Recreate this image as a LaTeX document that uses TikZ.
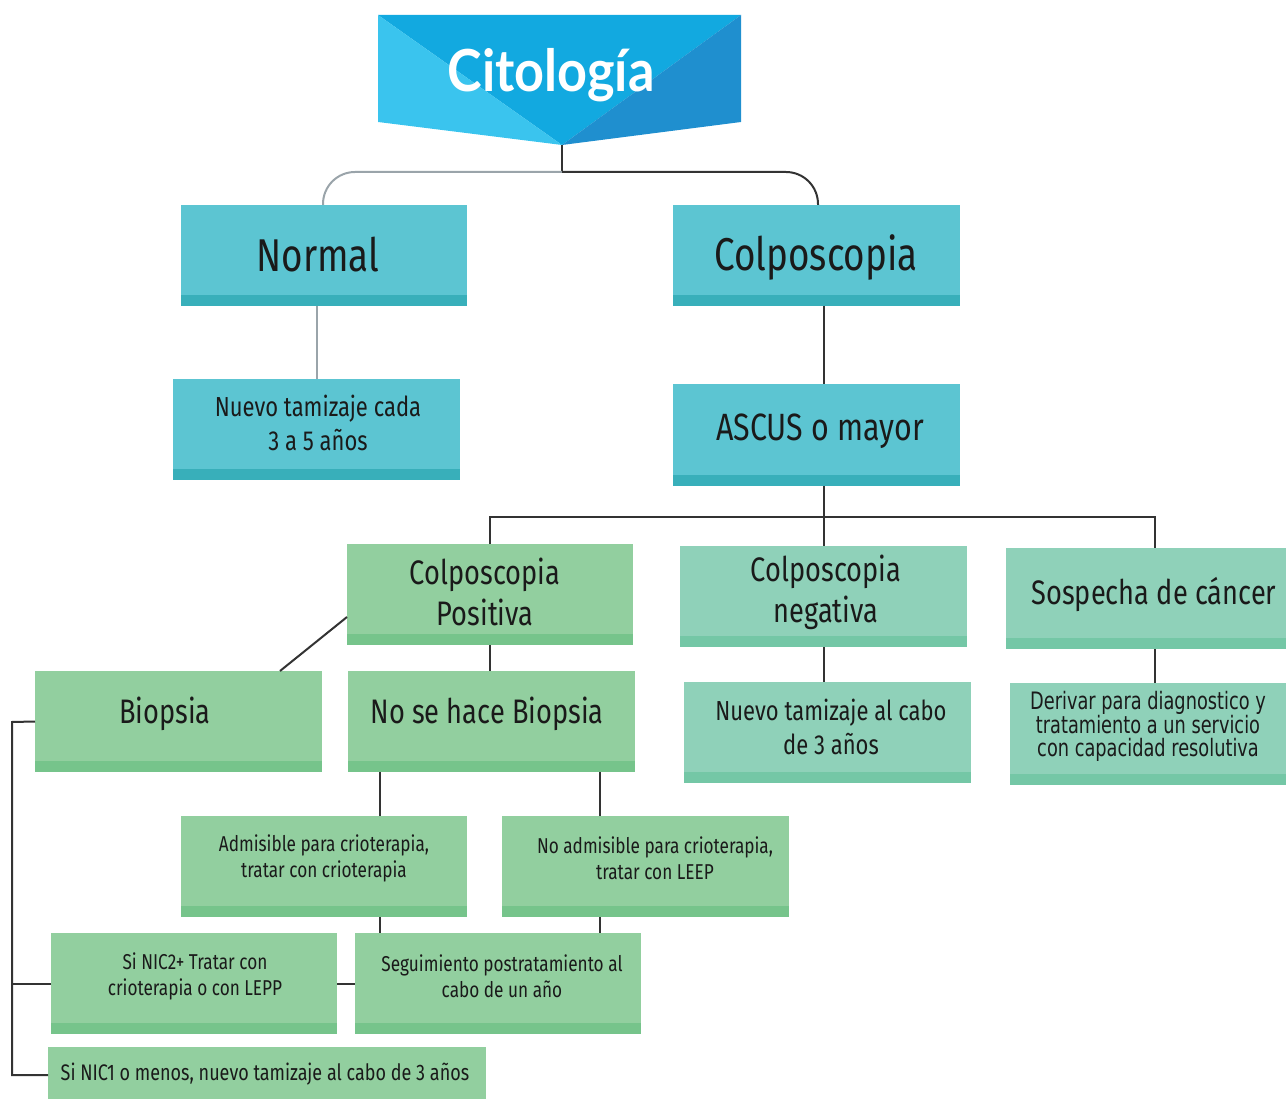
\documentclass[tikz,border=0pt]{standalone}
\usepackage{fontspec}
\setmainfont{Fira Sans}[FakeStretch=0.8]
\newfontfamily\titlefont{Lato}[FakeStretch=0.9]
\newfontfamily\derfont{DejaVu Sans}[FakeStretch=0.74]
\usetikzlibrary{fit,calc}
\definecolor{tLight}{HTML}{3AC4EE}
\definecolor{tMid}{HTML}{12A9E0}
\definecolor{tDark}{HTML}{1F8FCF}
\definecolor{cTeal}{HTML}{5CC5D2}
\definecolor{cTealS}{HTML}{38AFBA}
\definecolor{cGreen}{HTML}{92CF9F}
\definecolor{cGreenS}{HTML}{76C48B}
\definecolor{cMint}{HTML}{8FD1B9}
\definecolor{cMintS}{HTML}{74C7A6}
\definecolor{cLine}{HTML}{333333}
\definecolor{cGray}{HTML}{9AA4AA}
\definecolor{cText}{HTML}{1A1A1A}
\tikzset{
  box/.style={inner sep=0pt, outer sep=0pt, draw=none},
  tealbox/.style={box, fill=cTeal, path picture={\fill[cTealS] (path picture bounding box.south west) rectangle ([yshift=11pt]path picture bounding box.south east);}},
  greenbox/.style={box, fill=cGreen, path picture={\fill[cGreenS] (path picture bounding box.south west) rectangle ([yshift=11pt]path picture bounding box.south east);}},
  mintbox/.style={box, fill=cMint, path picture={\fill[cMintS] (path picture bounding box.south west) rectangle ([yshift=11pt]path picture bounding box.south east);}},
  txt/.style={inner sep=0pt, align=center, text=cText},
  conn/.style={draw=cLine, line width=2pt},
  gconn/.style={draw=cGray, line width=2pt},
}
\begin{document}
\begin{tikzpicture}[x=1pt,y=-1pt]
\useasboundingbox (0,0) rectangle (1286,1099);
% title
\fill[tMid] (378,15) -- (741,15) -- (562,145) -- cycle;
\fill[tLight] (378,15) -- (562,145) -- (378,122) -- cycle;
\fill[tDark] (741,15) -- (741,122) -- (562,145) -- cycle;
\coordinate (tip) at (562,145);
\coordinate (split) at (562,172);
\node[inner sep=0pt, anchor=base, text=white, font=\titlefont\bfseries\fontsize{58}{60}\selectfont] (ttl) at (551,92) {Citología};
% boxes
\node[tealbox, fit={(181,205) (467,306)}] (normal) {};
\node[tealbox, fit={(173,379) (460,480)}] (nuevo) {};
\node[tealbox, fit={(673,205) (960,306)}] (colp) {};
\node[tealbox, fit={(673,384) (960,486)}] (ascus) {};
\node[greenbox, fit={(347,544) (633,645)}] (pos) {};
\node[mintbox, fit={(680,546) (967,647)}] (neg) {};
\node[mintbox, fit={(1006,548) (1290,649)}] (sos) {};
\node[greenbox, fit={(35,671) (322,772)}] (bio) {};
\node[greenbox, fit={(348,671) (635,772)}] (nobio) {};
\node[mintbox, fit={(684,682) (971,783)}] (nuevo3) {};
\node[mintbox, fit={(1010,683) (1290,785)}] (der) {};
\node[greenbox, fit={(181,816) (467,917)}] (adm) {};
\node[greenbox, fit={(502,816) (789,917)}] (noadm) {};
\node[greenbox, fit={(51,933) (337,1034)}] (nic2) {};
\node[greenbox, fit={(355,933) (641,1034)}] (seg) {};
\node[box, fill=cGreen, fit={(48,1047) (486,1100)}] (nic1) {};
% texts
\node[txt, font=\fontsize{46}{50}\selectfont] (normalt) at (318,255) {Normal};
\node[txt, font=\fontsize{27.5}{34}\selectfont] (nuevot) at (318,423) {Nuevo tamizaje cada\\3 a 5 años};
\node[txt, font=\fontsize{46}{50}\selectfont] (colpt) at (816,257) {Colposcopia};
\node[txt, font=\fontsize{38}{40}\selectfont] (ascust) at (820,431) {ASCUS o mayor};
\node[txt, font=\fontsize{34}{41}\selectfont] (post) at (485,592) {Colposcopia\\Positiva};
\node[txt, font=\fontsize{34}{41}\selectfont] (negt) at (826,592) {Colposcopia\\negativa};
\node[txt, font=\fontsize{34}{41}\selectfont] (sost) at (1154,595) {Sospecha de cáncer};
\node[txt, font=\fontsize{34}{41}\selectfont] (biot) at (165,714) {Biopsia};
\node[txt, font=\fontsize{34}{41}\selectfont] (nobiot) at (487,714) {No se hace Biopsia};
\node[txt, font=\fontsize{27.5}{34}\selectfont] (nuevo3t) at (831,727) {Nuevo tamizaje al cabo\\de 3 años};
\node[txt, font=\derfont\fontsize{24}{23}\selectfont] (dert) at (1148,726) {Derivar para diagnostico y\\tratamiento a un servicio\\con capacidad resolutiva};
\node[txt, font=\fontsize{21.5}{26}\selectfont] (admt) at (324,858) {Admisible para crioterapia,\\tratar con crioterapia};
\node[txt, font=\fontsize{21.5}{26}\selectfont] (noadmt) at (655,858) {No admisible para crioterapia,\\tratar con LEEP};
\node[txt, font=\fontsize{21.5}{26}\selectfont] (nic2t) at (195,976) {Si NIC2+ Tratar con\\crioterapia o con LEPP};
\node[txt, font=\fontsize{21.5}{26}\selectfont] (segt) at (502,976) {Seguimiento postratamiento al\\cabo de un año};
\node[txt, font=\fontsize{22.5}{26}\selectfont] (nic1t) at (265,1074) {Si NIC1 o menos, nuevo tamizaje al cabo de 3 años};
% connectors
\draw[conn] (tip) -- (split);
\draw[gconn, rounded corners=32pt] (split) -| (normal.north -| 323,0);
\draw[conn, rounded corners=32pt] (split) -| (colp.north -| 818,0);
\draw[gconn] (normal.south -| nuevo.north) -- (nuevo.north);
\draw[conn] (colp.south -| neg.north) -- (ascus.north -| neg.north);
\draw[conn] (ascus.south -| neg.north) -- (neg.north);
\draw[conn] (pos.north -| 490,0) |- (1155,517) -- (sos.north -| 1155,0);
\draw[conn] (neg.south) -- (nuevo3.north -| neg.south);
\draw[conn] (sos.south -| 1155,0) -- (der.north -| 1155,0);
\draw[conn] (pos.south -| 490,0) -- (nobio.north -| 490,0);
\draw[conn] ($(pos.south west)+(0,-28)$) -- (bio.north -| 280,0);
\draw[conn] (nobio.south -| 380,0) -- (adm.north -| 380,0);
\draw[conn] (nobio.south -| 600,0) -- (noadm.north -| 600,0);
\draw[conn] (adm.south -| 380,0) -- (seg.north -| 380,0);
\draw[conn] (noadm.south -| 600,0) -- (seg.north -| 600,0);
\draw[conn] (nic2.east) -- (seg.west);
\draw[conn] (bio.west) -- (12,722) |- (nic1.west |- 0,1075);
\draw[conn] (nic2.west) -- (12,0 |- nic2.west);
\end{tikzpicture}
\end{document}
